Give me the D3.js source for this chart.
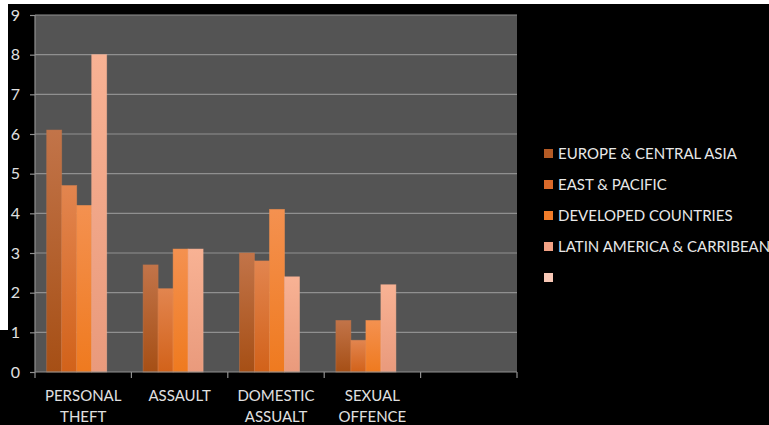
<!DOCTYPE html>
<html>
<head>
<meta charset="utf-8">
<script src="https://cdn.jsdelivr.net/npm/d3@7"></script>
<style>
  html, body { margin: 0; padding: 0; background: #000; }
  svg { display: block; }
  text { font-family: Lato, "Open Sans", sans-serif; }
</style>
</head>
<body>
<svg id="chart" width="769" height="425"></svg>
<script>
// Crime categories (last slot is left blank)
const categories = [["PERSONAL", "THEFT"], ["ASSAULT"], ["DOMESTIC", "ASSUALT"], ["SEXUAL", "OFFENCE"], [""]];
const seriesNames = ["EUROPE & CENTRAL ASIA", "EAST & PACIFIC", "DEVELOPED COUNTRIES", "LATIN AMERICA & CARRIBEAN", ""];
const europeCentralAsia = [6.1, 2.7, 3.0, 1.3, null];
const eastPacific       = [4.7, 2.1, 2.8, 0.8, null];
const developed         = [4.2, 3.1, 4.1, 1.3, null];
const latinAmerica      = [8.0, 3.1, 2.4, 2.2, null];
const unnamedSeries     = [null, null, null, null, null];
const yTicks = [0, 1, 2, 3, 4, 5, 6, 7, 8, 9];

const seriesValues = [europeCentralAsia, eastPacific, developed, latinAmerica, unnamedSeries];
const topColors    = ["#c27449", "#e2854f", "#f49150", "#f8b294", "#fbd2c2"];
const bottomColors = ["#a64f15", "#d2621a", "#ef7a1f", "#e99a7c", "#f4c0ad"];
const swatchColors = ["#b35a25", "#d9692a", "#f07c2a", "#f1a184", "#f8c8b6"];

const svg = d3.select("#chart");
const W = 769, H = 425;
const plot = { left: 35, right: 517, top: 15, bottom: 372 };

// white strip along the top and left edges
svg.append("rect").attr("x", 0).attr("y", 0).attr("width", W).attr("height", 4).attr("fill", "#fff");
svg.append("rect").attr("x", 0).attr("y", 0).attr("width", 8).attr("height", 330).attr("fill", "#fff");

const defs = svg.append("defs");
seriesValues.forEach((_, i) => {
  const g = defs.append("linearGradient").attr("id", "grad" + i)
    .attr("x1", 0).attr("y1", 0).attr("x2", 0).attr("y2", 1);
  g.append("stop").attr("offset", "0%").attr("stop-color", topColors[i]);
  g.append("stop").attr("offset", "100%").attr("stop-color", bottomColors[i]);
});

const x0 = d3.scaleBand().domain(d3.range(categories.length))
  .range([plot.left, plot.right]).paddingInner(0).paddingOuter(0);
const bandW = x0.bandwidth();
const barW = 15;
const groupW = barW * seriesValues.length;
const groupOffset = (bandW - groupW) / 2 + 1;
const x1 = d3.scaleBand().domain(d3.range(seriesValues.length))
  .range([0, groupW]).padding(0);
const y = d3.scaleLinear().domain([0, 9]).range([plot.bottom, plot.top]);

// plot background
svg.append("rect").attr("x", plot.left).attr("y", plot.top)
  .attr("width", plot.right - plot.left).attr("height", plot.bottom - plot.top)
  .attr("fill", "#545454");

// horizontal gridlines
svg.append("g").selectAll("line").data(yTicks.filter(t => t > 0)).join("line")
  .attr("x1", plot.left).attr("x2", plot.right)
  .attr("y1", d => y(d)).attr("y2", d => y(d))
  .attr("stroke", "#909090").attr("stroke-width", 1.2);

// bars
const groups = svg.append("g").selectAll("g").data(categories).join("g")
  .attr("transform", (d, i) => `translate(${x0(i) + groupOffset},0)`);
groups.each(function(cat, ci) {
  const g = d3.select(this);
  seriesValues.forEach((vals, si) => {
    const v = vals[ci];
    if (v == null) return;
    g.append("rect")
      .attr("x", x1(si)).attr("width", x1.bandwidth())
      .attr("y", y(v)).attr("height", y(0) - y(v))
      .attr("fill", `url(#grad${si})`)
      .attr("stroke", topColors[si]).attr("stroke-opacity", 0.6).attr("stroke-width", 0.8);
  });
});

// y axis
const yAxis = d3.axisLeft(y).tickValues(yTicks).tickSize(5).tickPadding(10);
const ya = svg.append("g").attr("transform", `translate(${plot.left},0)`).call(yAxis);
ya.select(".domain").attr("stroke", "#909090").attr("stroke-width", 1.2).attr("d", `M0,${plot.top}V${plot.bottom}`);
ya.selectAll(".tick line").attr("stroke", "#909090").attr("stroke-width", 1.2);
ya.selectAll(".tick text").attr("fill", "#e0e0e0").attr("font-size", 16)
  .attr("font-family", "Lato, 'Open Sans', sans-serif");

// x axis with ticks on band boundaries
const boundaries = d3.range(categories.length + 1).map(i => plot.left + i * bandW);
const xa = svg.append("g");
xa.append("line").attr("x1", plot.left).attr("x2", plot.right)
  .attr("y1", plot.bottom).attr("y2", plot.bottom)
  .attr("stroke", "#909090").attr("stroke-width", 1.2);
xa.selectAll("line.tick").data(boundaries).join("line").attr("class", "tick")
  .attr("x1", d => d).attr("x2", d => d)
  .attr("y1", plot.bottom).attr("y2", plot.bottom + 6)
  .attr("stroke", "#909090").attr("stroke-width", 1.2);
xa.selectAll("text").data(categories).join("text")
  .attr("x", (d, i) => x0(i) + bandW / 2).attr("y", 401)
  .attr("text-anchor", "middle").attr("fill", "#e0e0e0").attr("font-size", 15)
  .each(function(lines) {
    const t = d3.select(this);
    lines.forEach((ln, k) => t.append("tspan")
      .attr("x", t.attr("x")).attr("dy", k === 0 ? 0 : 21).text(ln));
  });

// legend
const legend = svg.append("g").selectAll("g").data(seriesNames).join("g")
  .attr("transform", (d, i) => `translate(544,${154 + i * 31})`);
legend.append("rect").attr("x", 0).attr("y", -5).attr("width", 9).attr("height", 9)
  .attr("fill", (d, i) => swatchColors[i]);
legend.append("text").attr("x", 14).attr("y", 0).attr("dy", "0.35em")
  .attr("fill", "#e8e8e8").attr("font-size", 15).text(d => d);
</script>
</body>
</html>
